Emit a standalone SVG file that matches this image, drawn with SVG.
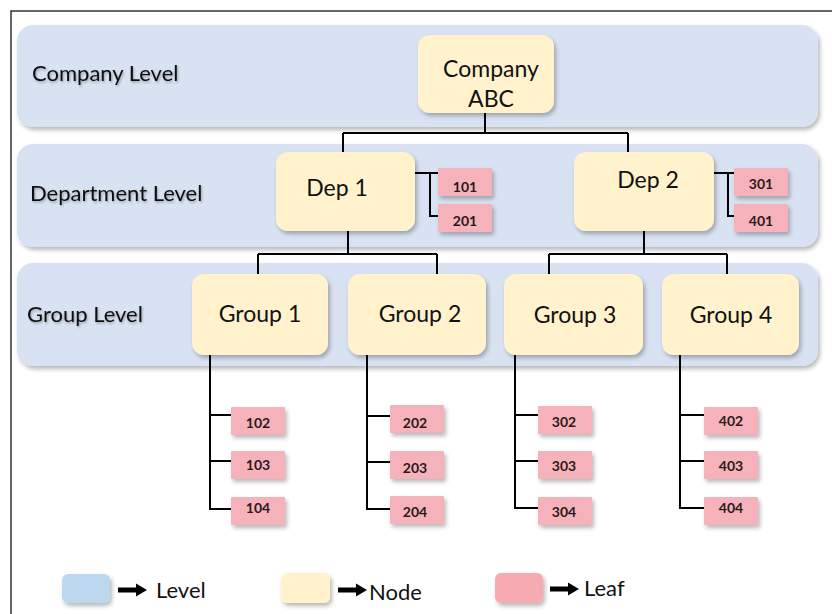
<svg xmlns="http://www.w3.org/2000/svg" width="832" height="614" viewBox="0 0 832 614">
<defs>
<filter id="sh" x="-10%" y="-10%" width="130%" height="140%">
<feDropShadow dx="2" dy="3" stdDeviation="2" flood-color="#000" flood-opacity="0.28"/>
</filter>
<filter id="tsh" x="-5%" y="-20%" width="110%" height="150%">
<feDropShadow dx="1" dy="1.5" stdDeviation="1" flood-color="#000" flood-opacity="0.3"/>
</filter>
<polygon id="arr" points="0,-2.5 18,-2.5 18,-6.5 29,0 18,6.5 18,2.5 0,2.5"/>
</defs>
<style>
.band{fill:#D9E2F2;filter:url(#sh)}
.node{fill:#FFF2CC;filter:url(#sh)}
.leaf{fill:#F6B2BA;filter:url(#sh)}
.lvl{font-family:Lato,"Liberation Sans",sans-serif;font-size:22px;fill:#111;filter:url(#tsh)}
.nt{font-family:Lato,"Liberation Sans",sans-serif;font-size:23px;fill:#111;text-anchor:middle}
.lt{font-family:Lato,"Liberation Sans",sans-serif;font-size:14px;font-weight:bold;fill:#2a1a1a;text-anchor:middle}
.lg{font-family:Lato,"Liberation Sans",sans-serif;font-size:22px;fill:#111}
.cn{fill:none;stroke:#000;stroke-width:2}
</style>
<rect width="832" height="614" fill="#fff"/>
<path d="M11,614 V11 H832" fill="none" stroke="#333" stroke-width="1.5"/>

<g id="bands">
<g id="company-level"><rect class="band" x="17" y="25" width="801" height="102" rx="16"/><text class="lvl" x="32" y="81">Company Level</text></g>
<g id="department-level"><rect class="band" x="17" y="144" width="801" height="103" rx="16"/><text class="lvl" x="30" y="201">Department Level</text></g>
<g id="group-level"><rect class="band" x="17" y="263" width="801" height="103" rx="16"/><text class="lvl" x="27" y="322">Group Level</text></g>
</g>

<g id="connectors" class="cn">
<path d="M485,113 V133 M343,133 H628 M343,133 V152 M628,133 V152"/>
<path d="M415,173 H438 M430,173 V216 H438"/>
<path d="M714,173 H734 M728,173 V216 H734"/>
<path d="M348,231 V254 M258,254 H437 M258,254 V274 M437,254 V274"/>
<path d="M644,231 V254 M549,254 H727 M549,254 V274 M727,254 V274"/>
<path d="M210,355 V509 H231 M210,415 H231 M210,461 H231"/>
<path d="M367,355 V509 H390 M367,416 H390 M367,462 H390"/>
<path d="M515,355 V508 H538 M515,415 H538 M515,461 H538"/>
<path d="M680,355 V508 H704 M680,415 H704 M680,461 H704"/>
</g>

<g id="company"><rect class="node" x="418" y="35" width="136" height="78" rx="12"/><text class="nt" x="491" y="77">Company</text><text class="nt" x="491" y="107">ABC</text></g>
<g id="dep1"><rect class="node" x="276" y="152" width="139" height="79" rx="12"/><text class="nt" x="337" y="196">Dep 1</text></g>
<g id="dep2"><rect class="node" x="574" y="152" width="140" height="79" rx="12"/><text class="nt" x="648" y="188">Dep 2</text></g>
<g id="group1"><rect class="node" x="192" y="274" width="136" height="81" rx="12"/><text class="nt" x="260" y="322">Group 1</text></g>
<g id="group2"><rect class="node" x="348" y="274" width="138" height="81" rx="12"/><text class="nt" x="420" y="322">Group 2</text></g>
<g id="group3"><rect class="node" x="504" y="274" width="139" height="81" rx="12"/><text class="nt" x="575" y="323">Group 3</text></g>
<g id="group4"><rect class="node" x="662" y="274" width="137" height="81" rx="12"/><text class="nt" x="731" y="323">Group 4</text></g>

<g id="leaf101"><rect class="leaf" x="438" y="168" width="54" height="28" rx="1"/><text class="lt" x="465" y="192">101</text></g>
<g id="leaf201"><rect class="leaf" x="438" y="204" width="54" height="28" rx="1"/><text class="lt" x="465" y="226">201</text></g>
<g id="leaf301"><rect class="leaf" x="734" y="168" width="54" height="28" rx="1"/><text class="lt" x="761" y="189">301</text></g>
<g id="leaf401"><rect class="leaf" x="734" y="204" width="54" height="28" rx="1"/><text class="lt" x="761" y="226">401</text></g>

<g id="leaf102"><rect class="leaf" x="231" y="407" width="54" height="28" rx="1"/><text class="lt" x="258" y="428">102</text></g>
<g id="leaf103"><rect class="leaf" x="231" y="451" width="54" height="28" rx="1"/><text class="lt" x="258" y="470">103</text></g>
<g id="leaf104"><rect class="leaf" x="231" y="497" width="54" height="28" rx="1"/><text class="lt" x="258" y="513">104</text></g>

<g id="leaf202"><rect class="leaf" x="390" y="405" width="54" height="28" rx="1"/><text class="lt" x="415" y="428">202</text></g>
<g id="leaf203"><rect class="leaf" x="390" y="451" width="54" height="28" rx="1"/><text class="lt" x="415" y="473">203</text></g>
<g id="leaf204"><rect class="leaf" x="390" y="496" width="54" height="28" rx="1"/><text class="lt" x="415" y="517">204</text></g>

<g id="leaf302"><rect class="leaf" x="538" y="406" width="54" height="28" rx="1"/><text class="lt" x="564" y="427">302</text></g>
<g id="leaf303"><rect class="leaf" x="538" y="451" width="54" height="28" rx="1"/><text class="lt" x="564" y="471">303</text></g>
<g id="leaf304"><rect class="leaf" x="538" y="497" width="54" height="28" rx="1"/><text class="lt" x="564" y="517">304</text></g>

<g id="leaf402"><rect class="leaf" x="704" y="407" width="54" height="28" rx="1"/><text class="lt" x="731" y="426">402</text></g>
<g id="leaf403"><rect class="leaf" x="704" y="451" width="54" height="28" rx="1"/><text class="lt" x="731" y="471">403</text></g>
<g id="leaf404"><rect class="leaf" x="704" y="497" width="54" height="28" rx="1"/><text class="lt" x="731" y="513">404</text></g>

<g id="legend">
<rect x="62" y="574" width="48" height="29" rx="6" fill="#BDD7EE" filter="url(#sh)"/>
<use href="#arr" x="118" y="590" fill="#000"/>
<text class="lg" x="156" y="598">Level</text>
<rect x="281" y="573" width="49" height="30" rx="6" fill="#FFF2CC" filter="url(#sh)"/>
<use href="#arr" x="338" y="590" fill="#000"/>
<text class="lg" x="369" y="600">Node</text>
<rect x="495" y="573" width="48" height="30" rx="6" fill="#F6AAB2" filter="url(#sh)"/>
<use href="#arr" x="550" y="589" fill="#000"/>
<text class="lg" x="584" y="596">Leaf</text>
</g>
</svg>
